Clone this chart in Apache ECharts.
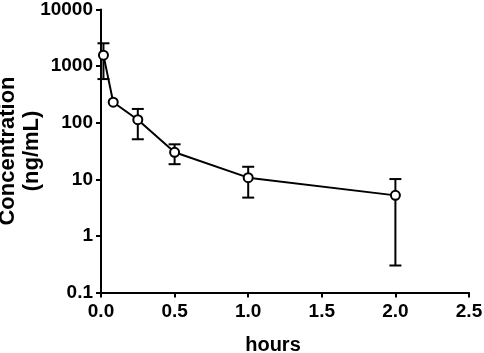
<!DOCTYPE html>
<html>
<head>
<meta charset="utf-8">
<script src="https://cdn.jsdelivr.net/npm/echarts@6/dist/echarts.min.js"></script>
<style>
  html, body { margin: 0; padding: 0; background: #fff; }
  #chart { width: 484px; height: 353px; }
</style>
</head>
<body>
<div id="chart"></div>
<script>
  // 数据：时间(小时)、平均浓度、标准差
  var hours = [0.0167, 0.083, 0.25, 0.5, 1.0, 2.0];
  var meanConc = [1560, 230, 113, 30, 10.7, 5.2];
  var sdConc = [970, 0, 62, 11.5, 5.95, 4.9];
  var yTicks = ['0.1', '1', '10', '100', '1000', '10000'];

  var font = 'Liberation Sans, Arial, Helvetica, sans-serif';

  var lineData = hours.map(function (h, i) { return [h, meanConc[i]]; });
  var errData = [];
  hours.forEach(function (h, i) {
    if (sdConc[i] > 0) {
      errData.push([h, meanConc[i] - sdConc[i], meanConc[i] + sdConc[i]]);
    }
  });

  var chart = echarts.init(document.getElementById('chart'));
  var option = {
    animation: false,
    grid: { left: 101, right: 15, top: 9.5, bottom: 60.5, containLabel: false, outerBoundsMode: 'none' },
    xAxis: {
      type: 'value',
      min: 0,
      max: 2.5,
      interval: 0.5,
      name: 'hours',
      nameLocation: 'middle',
      nameGap: 43,
      nameMoveOverlap: false,
      nameTextStyle: {
        color: '#000', fontFamily: font, fontWeight: 'bold', fontSize: 20,
        padding: [0, 24, 0, 0]
      },
      axisLine: { lineStyle: { color: '#000', width: 2 } },
      axisTick: { length: 5, lineStyle: { color: '#000', width: 2 } },
      axisLabel: {
        color: '#000', fontFamily: font, fontWeight: 'bold', fontSize: 19, margin: 10,
        formatter: function (v) { return v.toFixed(1); }
      },
      splitLine: { show: false }
    },
    yAxis: {
      type: 'log',
      logBase: 10,
      min: 0.1,
      max: 10000,
      name: 'Concentration\n(ng/mL)',
      nameLocation: 'middle',
      nameGap: 57,
      nameMoveOverlap: false,
      nameTextStyle: {
        color: '#000', fontFamily: font, fontWeight: 'bold', fontSize: 22, lineHeight: 24
      },
      axisLine: { lineStyle: { color: '#000', width: 2 } },
      axisTick: { length: 5, lineStyle: { color: '#000', width: 2 } },
      axisLabel: {
        color: '#000', fontFamily: font, fontWeight: 'bold', fontSize: 19, margin: 8,
        formatter: function (v) {
          var idx = Math.round(Math.log10(v)) + 1;
          return yTicks[idx];
        }
      },
      splitLine: { show: false }
    },
    series: [
      {
        // 误差线
        type: 'custom',
        z: 2,
        data: errData,
        encode: { x: 0, y: [1, 2] },
        renderItem: function (params, api) {
          var x = api.value(0);
          var lo = api.coord([x, api.value(1)]);
          var hi = api.coord([x, api.value(2)]);
          var cap = 6;
          var style = { stroke: '#000', lineWidth: 2 };
          return {
            type: 'group',
            children: [
              { type: 'line', shape: { x1: lo[0], y1: lo[1], x2: hi[0], y2: hi[1] }, style: style },
              { type: 'line', shape: { x1: lo[0] - cap, y1: lo[1], x2: lo[0] + cap, y2: lo[1] }, style: style },
              { type: 'line', shape: { x1: hi[0] - cap, y1: hi[1], x2: hi[0] + cap, y2: hi[1] }, style: style }
            ]
          };
        }
      },
      {
        type: 'line',
        z: 3,
        data: lineData,
        symbol: 'circle',
        symbolSize: 9,
        showAllSymbol: true,
        lineStyle: { color: '#000', width: 2 },
        itemStyle: { color: '#fff', borderColor: '#000', borderWidth: 2 }
      }
    ]
  };
  chart.setOption(option);
</script>
</body>
</html>
